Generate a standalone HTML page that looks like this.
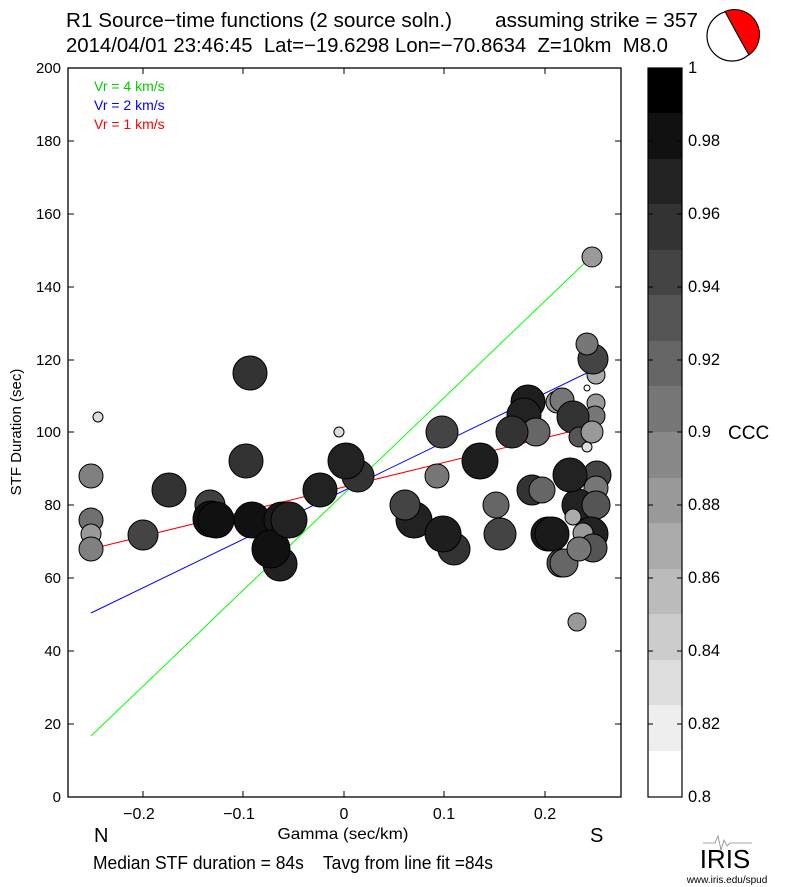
<!DOCTYPE html>
<html><head><meta charset="utf-8"><style>body{margin:0;background:#fff}svg{display:block}text{font-family:"Liberation Sans",sans-serif;white-space:pre}</style></head><body>
<svg width="785" height="887" xmlns="http://www.w3.org/2000/svg" xml:space="preserve">
<text x="66" y="27" font-size="20" textLength="386" lengthAdjust="spacingAndGlyphs">R1 Source−time functions (2 source soln.)</text>
<text x="495" y="27" font-size="20" textLength="203" lengthAdjust="spacingAndGlyphs">assuming strike = 357</text>
<text x="66" y="52" font-size="20" textLength="602" lengthAdjust="spacingAndGlyphs">2014/04/01 23:46:45  Lat=−19.6298 Lon=−70.8634  Z=10km  M8.0</text>
<circle cx="732" cy="36" r="25" fill="#fff" stroke="#000" stroke-width="1.2"/>
<path d="M725,11.5 A25,25 0 0 1 749,55 Q738,36 725,11.5Z" fill="#f00" stroke="#000"/>
<line x1="91" y1="736" x2="593" y2="255" stroke="#0f0"/>
<line x1="91" y1="613" x2="593" y2="370" stroke="#00f"/>
<line x1="91" y1="549" x2="593" y2="426" stroke="#f00"/>
<g stroke="#000" stroke-width="1">
<circle cx="98" cy="417" r="5" fill="#ddd"/>
<circle cx="91" cy="476" r="12" fill="#808080"/>
<circle cx="91" cy="520" r="12" fill="#707070"/>
<circle cx="91" cy="534" r="10" fill="#999"/>
<circle cx="91" cy="549" r="12" fill="#808080"/>
<circle cx="143" cy="535" r="15" fill="#444"/>
<circle cx="169" cy="490" r="17" fill="#333"/>
<circle cx="210" cy="505" r="15" fill="#404040"/>
<circle cx="211" cy="519" r="18" fill="#111"/>
<circle cx="216" cy="520" r="18" fill="#111"/>
<circle cx="250" cy="373" r="17" fill="#333"/>
<circle cx="246" cy="461" r="17" fill="#333"/>
<circle cx="252" cy="520" r="18" fill="#111"/>
<circle cx="280" cy="564" r="17" fill="#222"/>
<circle cx="282" cy="520" r="18" fill="#1a1a1a"/>
<circle cx="271" cy="549" r="19" fill="#111"/>
<circle cx="289" cy="520" r="18" fill="#222"/>
<circle cx="339" cy="432" r="5" fill="#ddd"/>
<circle cx="358" cy="476" r="16" fill="#333"/>
<circle cx="346" cy="461" r="18" fill="#222"/>
<circle cx="320" cy="490" r="17" fill="#222"/>
<circle cx="442" cy="432" r="16" fill="#444"/>
<circle cx="480" cy="461" r="18" fill="#1e1e1e"/>
<circle cx="437" cy="476" r="12" fill="#777"/>
<circle cx="414" cy="520" r="18" fill="#222"/>
<circle cx="405" cy="505" r="15" fill="#444"/>
<circle cx="454" cy="549" r="16" fill="#333"/>
<circle cx="443" cy="534" r="18" fill="#1e1e1e"/>
<circle cx="496" cy="505" r="13" fill="#666"/>
<circle cx="500" cy="534" r="16" fill="#444"/>
<circle cx="528" cy="402" r="17" fill="#1e1e1e"/>
<circle cx="524" cy="415" r="17" fill="#222"/>
<circle cx="536" cy="432" r="14" fill="#666"/>
<circle cx="512" cy="432" r="16" fill="#333"/>
<circle cx="532" cy="490" r="15" fill="#333"/>
<circle cx="542" cy="490" r="13" fill="#666"/>
<circle cx="548" cy="534" r="17" fill="#1a1a1a"/>
<circle cx="552" cy="534" r="17" fill="#1a1a1a"/>
<circle cx="561" cy="563" r="14" fill="#555"/>
<circle cx="564" cy="563" r="14" fill="#666"/>
<circle cx="597" cy="475" r="14" fill="#444"/>
<circle cx="596" cy="488" r="12" fill="#777"/>
<circle cx="578" cy="505" r="16" fill="#222"/>
<circle cx="570" cy="475" r="17" fill="#222"/>
<circle cx="596" cy="505" r="14" fill="#555"/>
<circle cx="573" cy="517" r="8" fill="#aaa"/>
<circle cx="591" cy="534" r="17" fill="#222"/>
<circle cx="583" cy="533" r="10" fill="#999"/>
<circle cx="593" cy="548" r="14" fill="#555"/>
<circle cx="579" cy="549" r="12" fill="#777"/>
<circle cx="577" cy="622" r="9" fill="#999"/>
<circle cx="592" cy="257" r="10" fill="#999"/>
<circle cx="596" cy="375" r="9" fill="#aaa"/>
<circle cx="593" cy="359" r="15" fill="#444"/>
<circle cx="587" cy="344" r="11" fill="#777"/>
<circle cx="587" cy="388" r="3" fill="#fff"/>
<circle cx="557" cy="402" r="11" fill="#999"/>
<circle cx="562" cy="400" r="12" fill="#777"/>
<circle cx="596" cy="403" r="9" fill="#999"/>
<circle cx="595" cy="416" r="10" fill="#777"/>
<circle cx="573" cy="417" r="16" fill="#333"/>
<circle cx="579" cy="437" r="10" fill="#555"/>
<circle cx="592" cy="432" r="11" fill="#999"/>
<circle cx="587" cy="447" r="5" fill="#ddd"/>
</g>
<rect x="68" y="68" width="553" height="729" fill="none" stroke="#000" stroke-width="1.3"/>
<g stroke="#000">
<line x1="68" y1="797" x2="74" y2="797"/><line x1="68" y1="724" x2="74" y2="724"/><line x1="68" y1="651" x2="74" y2="651"/><line x1="68" y1="578" x2="74" y2="578"/><line x1="68" y1="505" x2="74" y2="505"/><line x1="68" y1="432" x2="74" y2="432"/><line x1="68" y1="360" x2="74" y2="360"/><line x1="68" y1="287" x2="74" y2="287"/><line x1="68" y1="214" x2="74" y2="214"/><line x1="68" y1="141" x2="74" y2="141"/>
<line x1="621" y1="724" x2="615" y2="724"/><line x1="621" y1="651" x2="615" y2="651"/><line x1="621" y1="578" x2="615" y2="578"/><line x1="621" y1="505" x2="615" y2="505"/><line x1="621" y1="432" x2="615" y2="432"/><line x1="621" y1="360" x2="615" y2="360"/><line x1="621" y1="287" x2="615" y2="287"/><line x1="621" y1="214" x2="615" y2="214"/><line x1="621" y1="141" x2="615" y2="141"/>
<line x1="143" y1="797" x2="143" y2="791"/><line x1="243" y1="797" x2="243" y2="791"/><line x1="344" y1="797" x2="344" y2="791"/><line x1="444" y1="797" x2="444" y2="791"/><line x1="545" y1="797" x2="545" y2="791"/>
<line x1="143" y1="68" x2="143" y2="74"/><line x1="243" y1="68" x2="243" y2="74"/><line x1="344" y1="68" x2="344" y2="74"/><line x1="444" y1="68" x2="444" y2="74"/><line x1="545" y1="68" x2="545" y2="74"/>
</g>
<g font-size="15" text-anchor="end">
<text x="61" y="802">0</text><text x="61" y="729">20</text><text x="61" y="656">40</text><text x="61" y="583">60</text><text x="61" y="510">80</text><text x="61" y="437">100</text><text x="61" y="365">120</text><text x="61" y="292">140</text><text x="61" y="219">160</text><text x="61" y="146">180</text><text x="61" y="73">200</text>
</g>
<g font-size="16" text-anchor="middle">
<text x="139" y="819">−0.2</text><text x="239" y="819">−0.1</text><text x="344" y="819">0</text><text x="444" y="819">0.1</text><text x="545" y="819">0.2</text>
</g>
<text x="343" y="839" font-size="16" text-anchor="middle" textLength="131" lengthAdjust="spacingAndGlyphs">Gamma (sec/km)</text>
<text x="21" y="432" font-size="15" text-anchor="middle" transform="rotate(-90 21 432)">STF Duration (sec)</text>
<text x="94" y="842" font-size="20">N</text>
<text x="590" y="842" font-size="20">S</text>
<text x="94" y="91" font-size="14" fill="#0c0">Vr = 4 km/s</text>
<text x="94" y="110" font-size="14" fill="#00f">Vr = 2 km/s</text>
<text x="94" y="129" font-size="14" fill="#f00">Vr = 1 km/s</text>
<text x="93" y="869" font-size="18" textLength="400" lengthAdjust="spacingAndGlyphs">Median STF duration = 84s    Tavg from line fit =84s</text>
<text x="725" y="868" font-size="26" font-family="Liberation Serif,serif" text-anchor="middle">IRIS</text>
<text x="727" y="883" font-size="10" text-anchor="middle">www.iris.edu/spud</text>
<path d="M703,843 L715,843 L718,836 L721,850 L724,840 L727,846 L730,843 L752,843" fill="none" stroke="#888" stroke-width="0.8"/>
<g>
<rect x="648" y="68" width="34" height="46" fill="#000"/>
<rect x="648" y="113" width="34" height="46" fill="#111"/>
<rect x="648" y="159" width="34" height="46" fill="#222"/>
<rect x="648" y="204" width="34" height="46" fill="#333"/>
<rect x="648" y="250" width="34" height="46" fill="#444"/>
<rect x="648" y="295" width="34" height="46" fill="#555"/>
<rect x="648" y="341" width="34" height="46" fill="#666"/>
<rect x="648" y="386" width="34" height="46" fill="#777"/>
<rect x="648" y="432" width="34" height="46" fill="#888"/>
<rect x="648" y="478" width="34" height="46" fill="#999"/>
<rect x="648" y="523" width="34" height="46" fill="#aaa"/>
<rect x="648" y="569" width="34" height="46" fill="#bbb"/>
<rect x="648" y="614" width="34" height="46" fill="#ccc"/>
<rect x="648" y="660" width="34" height="46" fill="#ddd"/>
<rect x="648" y="705" width="34" height="46" fill="#eee"/>
<rect x="648" y="751" width="34" height="46" fill="#fff"/>
<rect x="648" y="68" width="34" height="729" fill="none" stroke="#000" stroke-width="1.2"/>
</g>
<g stroke="#000">
<line x1="682" y1="141" x2="677" y2="141"/><line x1="682" y1="214" x2="677" y2="214"/><line x1="682" y1="287" x2="677" y2="287"/><line x1="682" y1="360" x2="677" y2="360"/><line x1="682" y1="432" x2="677" y2="432"/><line x1="682" y1="505" x2="677" y2="505"/><line x1="682" y1="578" x2="677" y2="578"/><line x1="682" y1="651" x2="677" y2="651"/><line x1="682" y1="724" x2="677" y2="724"/>
<line x1="648" y1="141" x2="653" y2="141"/><line x1="648" y1="214" x2="653" y2="214"/><line x1="648" y1="287" x2="653" y2="287"/><line x1="648" y1="360" x2="653" y2="360"/><line x1="648" y1="432" x2="653" y2="432"/><line x1="648" y1="505" x2="653" y2="505"/><line x1="648" y1="578" x2="653" y2="578"/><line x1="648" y1="651" x2="653" y2="651"/><line x1="648" y1="724" x2="653" y2="724"/>
</g>
<g font-size="16.5">
<text x="688" y="73">1</text><text x="688" y="146">0.98</text><text x="688" y="219">0.96</text><text x="688" y="292">0.94</text><text x="688" y="365">0.92</text><text x="688" y="437">0.9</text><text x="688" y="510">0.88</text><text x="688" y="583">0.86</text><text x="688" y="656">0.84</text><text x="688" y="729">0.82</text><text x="688" y="802">0.8</text>
</g>
<text x="728" y="439" font-size="19">CCC</text>
</svg>
</body></html>
